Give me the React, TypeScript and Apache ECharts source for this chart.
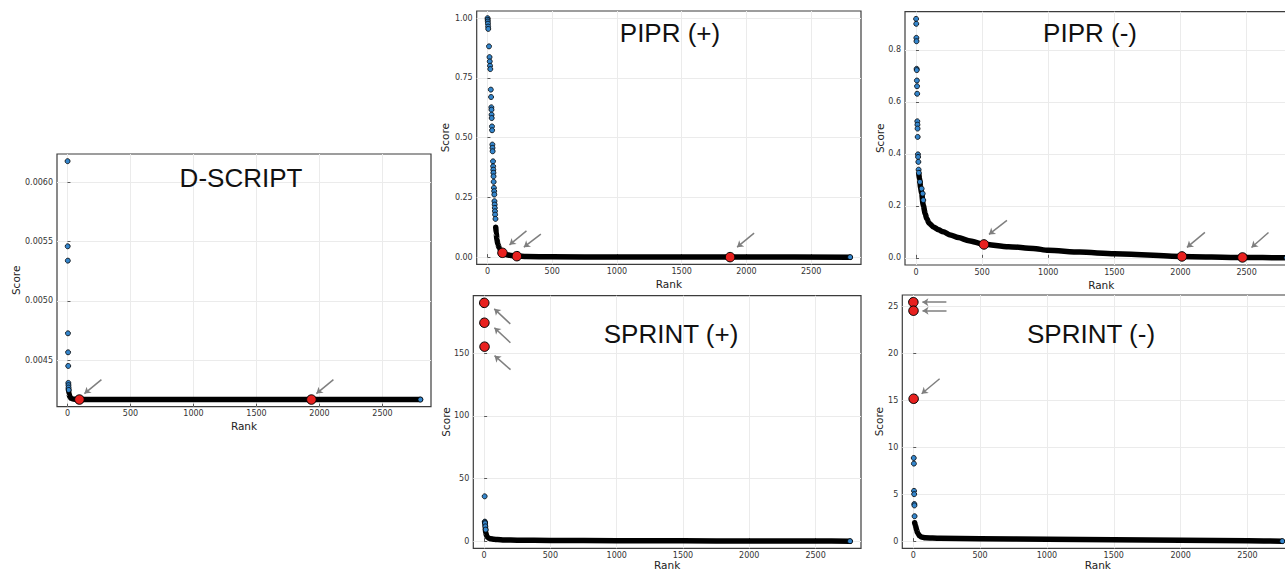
import React, { useEffect, useRef } from "react";
import * as echarts from "echarts";

// ---------- shared tick labels ----------
const xTickValues = [0, 500, 1000, 1500, 2000, 2500];

// ---------- D-SCRIPT ----------
const dscriptOutlierRanks = [1, 2, 3, 4, 5, 6, 7, 8, 9, 10, 2801];
const dscriptOutlierScores = [0.006177, 0.00546, 0.005339, 0.004727, 0.004567, 0.004452, 0.004309, 0.00429, 0.00427, 0.00425, 0.004169];
const dscriptBandRanks = [8, 12, 18, 28, 45, 80, 200, 1000, 2000, 2801];
const dscriptBandScores = [0.00426, 0.00422, 0.004195, 0.00418, 0.004173, 0.00417, 0.004169, 0.004169, 0.004169, 0.004169];
const dscriptMarkedRanks = [95, 1936];
const dscriptMarkedScores = [0.004169, 0.004169];
const dscriptYTicks = [0.0045, 0.005, 0.0055, 0.006];

// ---------- PIPR (+) ----------
const piprPosOutlierRanks = [1, 2, 3, 4, 5, 6, 12, 16, 18, 20, 22, 26, 28, 30, 31, 32, 33, 35, 36, 38, 39, 40, 43, 44, 45, 46, 47, 48, 50, 52, 53, 54, 56, 57, 58, 59, 62, 2801];
const piprPosOutlierScores = [1.0, 0.993, 0.986, 0.977, 0.965, 0.955, 0.882, 0.837, 0.819, 0.801, 0.787, 0.701, 0.67, 0.627, 0.617, 0.596, 0.582, 0.547, 0.531, 0.471, 0.457, 0.443, 0.401, 0.38, 0.366, 0.353, 0.338, 0.315, 0.29, 0.276, 0.262, 0.234, 0.22, 0.206, 0.192, 0.178, 0.16, 0.0];
const piprPosBandRanks = [64, 68, 73, 80, 90, 100, 116, 140, 180, 230, 300, 500, 1000, 2000, 2801];
const piprPosBandScores = [0.125, 0.1, 0.075, 0.055, 0.04, 0.03, 0.018, 0.011, 0.007, 0.004, 0.0025, 0.0012, 0.0005, 0.0002, 0.0];
const piprPosMarkedRanks = [116, 227, 1874];
const piprPosMarkedScores = [0.018, 0.004, 0.0];
const piprPosYTicks = [0, 0.25, 0.5, 0.75, 1.0];

// ---------- PIPR (-) ----------
const piprNegOutlierRanks = [1, 2, 3, 4, 5, 6, 7, 8, 9, 10, 11, 12, 13, 15, 16, 18, 20, 22, 30, 43, 51, 55, 2801];
const piprNegOutlierScores = [0.919, 0.9, 0.846, 0.833, 0.727, 0.722, 0.682, 0.66, 0.631, 0.525, 0.512, 0.497, 0.465, 0.398, 0.388, 0.369, 0.339, 0.327, 0.292, 0.266, 0.247, 0.222, 0.0];
const piprNegBandRanks = [22, 28, 35, 43, 55, 70, 81, 100, 131, 170, 206, 260, 320, 400, 509, 700, 887, 1000, 1240, 1500, 2000, 2469, 2801];
const piprNegBandScores = [0.32, 0.3, 0.27, 0.247, 0.202, 0.17, 0.151, 0.133, 0.119, 0.108, 0.1, 0.088, 0.078, 0.066, 0.0526, 0.043, 0.036, 0.029, 0.022, 0.016, 0.0055, 0.0015, 0.0];
const piprNegMarkedRanks = [514, 2011, 2469];
const piprNegMarkedScores = [0.0515, 0.0054, 0.0015];
const piprNegYTicks = [0, 0.2, 0.4, 0.6, 0.8];

// ---------- SPRINT (+) ----------
const sprintPosOutlierRanks = [4, 5, 6, 7, 9, 12, 2760];
const sprintPosOutlierScores = [35.8, 15.6, 15.0, 14.3, 11.8, 9.2, 0.0];
const sprintPosBandRanks = [6, 8, 12, 18, 25, 35, 50, 75, 100, 150, 250, 500, 1000, 1500, 2000, 2500, 2760];
const sprintPosBandScores = [14.5, 12, 7, 4.5, 3.2, 2.4, 1.9, 1.5, 1.3, 1.0, 0.8, 0.55, 0.35, 0.25, 0.15, 0.05, 0.0];
const sprintPosMarkedRanks = [1, 2, 3];
const sprintPosMarkedScores = [190.3, 174.4, 155.3];
const sprintPosYTicks = [0, 50, 100, 150];

// ---------- SPRINT (-) ----------
const sprintNegOutlierRanks = [4, 5, 6, 7, 8, 9, 10, 2760];
const sprintNegOutlierScores = [8.85, 8.25, 5.35, 5.0, 3.95, 3.8, 2.65, 0.0];
const sprintNegBandRanks = [11, 15, 20, 25, 32, 45, 60, 90, 200, 500, 1000, 1500, 2000, 2500, 2760];
const sprintNegBandScores = [1.95, 1.75, 1.5, 1.2, 0.9, 0.6, 0.45, 0.36, 0.3, 0.25, 0.2, 0.15, 0.1, 0.05, 0.0];
const sprintNegMarkedRanks = [1, 2, 3];
const sprintNegMarkedScores = [25.43, 24.52, 15.15];
const sprintNegYTicks = [0, 5, 10, 15, 20, 25];

// ---------- layout / style config ----------
const panels = [
  {
    title: "D-SCRIPT", titleX: 241, titleY: 178,
    grid: { left: 57, top: 154, width: 374, height: 252.7 }, yNameGap: 36, xNameGap: 14, yDecimals: 4,
    outR: dscriptOutlierRanks, outS: dscriptOutlierScores, bandR: dscriptBandRanks, bandS: dscriptBandScores,
    hiR: dscriptMarkedRanks, hiS: dscriptMarkedScores, yTicks: dscriptYTicks,
    arrows: [[22, -20, 5, -6], [22, -20, 5, -6]],
  },
  {
    title: "PIPR (+)", titleX: 670, titleY: 32.5,
    grid: { left: 476.7, top: 11, width: 384.3, height: 253.3 }, yNameGap: 26.5, xNameGap: 14, yDecimals: 2,
    outR: piprPosOutlierRanks, outS: piprPosOutlierScores, bandR: piprPosBandRanks, bandS: piprPosBandScores,
    hiR: piprPosMarkedRanks, hiS: piprPosMarkedScores, yTicks: piprPosYTicks,
    arrows: [[24, -22, 7, -8], [24, -22, 7, -9], [24, -24, 7, -10]],
  },
  {
    title: "PIPR (-)", titleX: 1090, titleY: 32.5,
    grid: { left: 905, top: 11.7, width: 392.5, height: 253.3 }, yNameGap: 20, xNameGap: 14, yDecimals: 1,
    outR: piprNegOutlierRanks, outS: piprNegOutlierScores, bandR: piprNegBandRanks, bandS: piprNegBandScores,
    hiR: piprNegMarkedRanks, hiS: piprNegMarkedScores, yTicks: piprNegYTicks,
    arrows: [[23, -24, 5, -10], [23, -24, 5, -9], [26, -25, 9, -10]],
  },
  {
    title: "SPRINT (+)", titleX: 671, titleY: 334,
    grid: { left: 473.3, top: 295.7, width: 387.7, height: 252.6 }, yNameGap: 22, xNameGap: 11.5, yDecimals: 0,
    outR: sprintPosOutlierRanks, outS: sprintPosOutlierScores, bandR: sprintPosBandRanks, bandS: sprintPosBandScores,
    hiR: sprintPosMarkedRanks, hiS: sprintPosMarkedScores, yTicks: sprintPosYTicks,
    arrows: [[26, 21, 10, 6], [26, 20, 10, 5], [26, 23, 10, 9]],
  },
  {
    title: "SPRINT (-)", titleX: 1091, titleY: 334,
    grid: { left: 902.3, top: 295, width: 391, height: 253.3 }, yNameGap: 18, xNameGap: 11.5, yDecimals: 0,
    outR: sprintNegOutlierRanks, outS: sprintNegOutlierScores, bandR: sprintNegBandRanks, bandS: sprintNegBandScores,
    hiR: sprintNegMarkedRanks, hiS: sprintNegMarkedScores, yTicks: sprintNegYTicks,
    arrows: [[33, 0, 9, 0], [33, 0, 9, 0], [26, -20, 8, -5]],
  },
];

const TICK_FONT = "DejaVu Sans";
const BLUE = "#3586cc";
const RED = "#e8211f";

function padRange(vals: number[]) {
  const mn = Math.min(...vals);
  const mx = Math.max(...vals);
  const pad = (mx - mn) * 0.03;
  return [mn - pad, mx + pad];
}

function buildOption(arrowSeries: any[]) {
  const grids: any[] = [];
  const xAxes: any[] = [];
  const yAxes: any[] = [];
  const series: any[] = [];
  const graphics: any[] = [];

  panels.forEach((p, i) => {
    const allR = [...p.outR, ...p.bandR, ...p.hiR];
    const allS = [...p.outS, ...p.bandS, ...p.hiS];
    const [xMin, xMax] = padRange([1, ...allR]);
    const [yMin, yMax] = padRange(allS);

    grids.push({
      ...p.grid,
      show: true,
      borderColor: "#3c3c3c",
      borderWidth: 1.2,
      backgroundColor: "rgba(0,0,0,0)",
      containLabel: false,
      outerBoundsMode: "none",
    });

    xAxes.push({
      type: "value",
      gridIndex: i,
      min: xMin,
      max: xMax,
      name: "Rank",
      nameLocation: "middle",
      nameGap: p.xNameGap,
      nameMoveOverlap: false,
      nameTextStyle: { fontFamily: TICK_FONT, fontSize: 10.5, color: "#222" },
      axisLine: { show: false },
      axisTick: { show: true, inside: true, length: 3, customValues: xTickValues, lineStyle: { color: "#333", width: 0.8 } },
      axisLabel: {
        customValues: xTickValues,
        fontFamily: TICK_FONT,
        fontSize: 8,
        color: "#333",
        margin: 3,
        formatter: (v: number) => v.toFixed(0),
      },
      splitLine: { show: true, lineStyle: { color: "#ebebeb", width: 1 } },
    });

    yAxes.push({
      type: "value",
      gridIndex: i,
      min: yMin,
      max: yMax,
      name: "Score",
      nameLocation: "middle",
      nameGap: p.yNameGap,
      nameMoveOverlap: false,
      nameTextStyle: { fontFamily: TICK_FONT, fontSize: 10.5, color: "#222" },
      axisLine: { show: false },
      axisTick: { show: true, inside: true, length: 3, customValues: p.yTicks, lineStyle: { color: "#333", width: 0.8 } },
      axisLabel: {
        customValues: p.yTicks,
        fontFamily: TICK_FONT,
        fontSize: 8,
        color: "#333",
        margin: 4,
        formatter: (v: number) => v.toFixed(p.yDecimals),
      },
      splitLine: { show: true, lineStyle: { color: "#ebebeb", width: 1 } },
    });

    series.push({
      type: "line",
      xAxisIndex: i,
      yAxisIndex: i,
      data: p.bandR.map((r, k) => [r, p.bandS[k]]),
      showSymbol: false,
      smooth: 0.25,
      smoothMonotone: "x",
      lineStyle: { color: "#000", width: 5.5, cap: "round", join: "round" },
      silent: true,
      z: 2,
    });
    series.push({
      type: "scatter",
      xAxisIndex: i,
      yAxisIndex: i,
      data: p.outR.map((r, k) => [r, p.outS[k]]),
      symbol: "circle",
      symbolSize: 5,
      itemStyle: { color: BLUE, borderColor: "#000", borderWidth: 0.8, opacity: 1 },
      silent: true,
      z: 3,
    });
    series.push({
      type: "scatter",
      xAxisIndex: i,
      yAxisIndex: i,
      data: p.hiR.map((r, k) => [r, p.hiS[k]]),
      symbol: "circle",
      symbolSize: 9.5,
      itemStyle: { color: RED, borderColor: "#000", borderWidth: 1, opacity: 1 },
      silent: true,
      z: 4,
    });

    graphics.push({
      type: "text",
      x: p.titleX,
      y: p.titleY,
      silent: true,
      z: 10,
      style: {
        text: p.title,
        fontFamily: "Liberation Sans",
        fontSize: 26,
        fill: "#111",
        align: "center",
        verticalAlign: "middle",
      },
    });
  });

  return {
    animation: false,
    backgroundColor: "#ffffff",
    grid: grids,
    xAxis: xAxes,
    yAxis: yAxes,
    series: [...series, ...arrowSeries],
    graphic: graphics,
  };
}

export default function App() {
  const ref = useRef<HTMLDivElement>(null);

  useEffect(() => {
    if (!ref.current) return;
    const chart = echarts.init(ref.current, undefined, { renderer: "svg" });
    chart.setOption(buildOption([]));

    const arrowSeries = panels.map((p, i) => {
      const data = p.hiR.map((r, k) => {
        const px = chart.convertToPixel({ gridIndex: i } as any, [r, p.hiS[k]]) as number[];
        const a = p.arrows[k];
        const start = chart.convertFromPixel({ gridIndex: i } as any, [px[0] + a[0], px[1] + a[1]]);
        const end = chart.convertFromPixel({ gridIndex: i } as any, [px[0] + a[2], px[1] + a[3]]);
        return { coords: [start, end] };
      });
      return {
        type: "lines",
        coordinateSystem: "cartesian2d",
        xAxisIndex: i,
        yAxisIndex: i,
        data,
        symbol: ["none", "arrow"],
        symbolSize: 6,
        lineStyle: { color: "#7f7f7f", width: 1.5, opacity: 1, curveness: 0 },
        silent: true,
        z: 6,
      };
    });
    chart.setOption(buildOption(arrowSeries), true);

    return () => chart.dispose();
  }, []);

  return (
    <div
      ref={ref}
      style={{ position: "absolute", left: 0, top: 0, width: 1285, height: 572, background: "#fff" }}
    />
  );
}
